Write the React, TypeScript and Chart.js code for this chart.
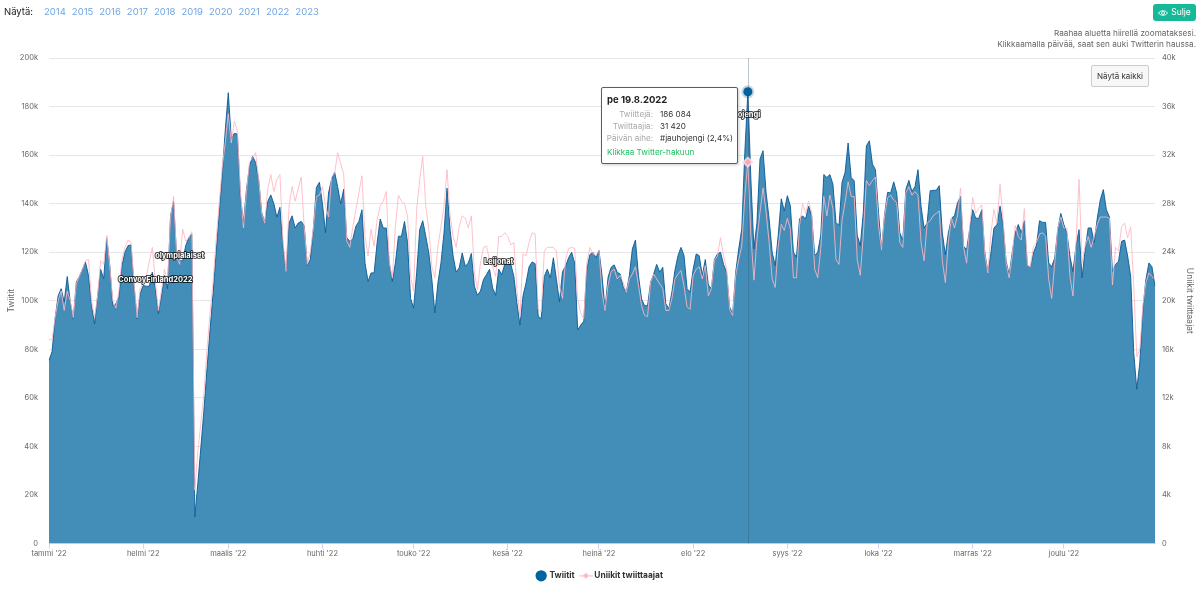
import { useEffect, useRef } from 'react';
import { Chart, registerables } from 'chart.js';

Chart.register(...registerables);

const FONT = 'Inter, "Noto Sans", sans-serif';

// thousands of tweets per day, 1.1.-31.12.2022
const tweets = [
  75.5, 79, 92.6, 102, 105, 99.5, 110, 99.5, 92.6, 107.7,
  110, 113, 116, 110.4, 98, 90.5, 102, 113, 109, 126,
  114.5, 98, 98.7, 101.5, 114.5, 120, 122.7, 123, 106, 92.6,
  103, 106.3, 106, 106, 111.8, 105, 94.7, 102, 110.4, 105,
  135, 141, 118.6, 116.5, 116.5, 122.7, 126, 127.5, 11, 25,
  40, 55, 72, 88, 103, 120, 136, 152, 170, 185.7,
  166.6, 169, 168.6, 143, 132, 146, 155.6, 159.5, 157, 150,
  136.4, 132.3, 141, 143.6, 140, 134.4, 138.5, 122.7, 111.8, 132,
  135, 130, 132, 132.7, 131, 114.5, 117, 129.6, 146.7, 148.8,
  140, 128, 144.4, 150, 153, 147, 140, 146, 126, 124.5,
  125.5, 130.7, 132.7, 137.5, 115.6, 108, 111.5, 111.5, 124, 133.7,
  130, 130, 115.6, 108, 115.6, 126.6, 126.6, 132.7, 124, 101,
  97, 111.5, 129.3, 133, 126.6, 119.7, 108.8, 95, 107.4, 115.6,
  128, 146.4, 129.3, 118.4, 111.8, 113.6, 119.7, 114.2, 115.6, 119.5,
  106, 102.3, 104, 108.8, 110.8, 113, 105.3, 102.3, 113, 110.8,
  115, 115.6, 115, 110, 99, 90, 102, 107.4, 114, 116,
  115.3, 93.7, 92.6, 110, 113, 109.5, 117.7, 108.8, 99.5, 112,
  114.2, 117.7, 120, 115.6, 88, 90, 91.6, 113, 119, 120,
  117.7, 120.8, 110.4, 96.7, 109.7, 113.8, 114.8, 111.8, 111, 105.6,
  103.6, 110.4, 121.4, 125, 110.4, 100.8, 98, 98, 107.7, 111,
  115, 111.8, 113.8, 98.8, 96.7, 103.6, 112.5, 118.6, 122, 118.6,
  105, 103.6, 113, 119.3, 118.6, 110.4, 117, 106.5, 105, 117,
  119.3, 120, 115, 111.8, 97.4, 94.7, 111.8, 121.4, 129.6, 161,
  186.084, 150, 121.4, 132.3, 158.4, 161.8, 144.7, 133.7, 120, 114.5,
  127, 142, 137, 143.3, 139, 120, 118, 133.7, 135, 133.7,
  139, 135, 118.6, 120, 127, 152, 150.8, 152, 148, 132.3,
  131, 148.8, 152.9, 165, 150.8, 149.4, 127, 122.7, 136.4, 163.8,
  165.9, 156.3, 154, 136.4, 121, 135.5, 144.7, 144.4, 149, 144.4,
  128, 125, 145.8, 149.6, 145, 147, 154, 139, 130, 132,
  145.3, 145.5, 145.5, 147.4, 128, 119, 128, 134, 135, 140.3,
  143, 122.5, 121, 129.3, 137.5, 134, 134, 137.5, 119.7, 112,
  119.7, 130, 131.4, 139, 131.4, 116.3, 110.8, 119.7, 128, 131.4,
  128, 133, 114.5, 114, 119.7, 123, 133, 132.3, 132.3, 115.6,
  114, 117.7, 129.3, 136, 131.4, 128, 118.4, 112, 122.5, 129.3,
  109.5, 121, 130, 130, 124, 134, 141.6, 145.8, 137.5, 134.5,
  112, 115, 116.3, 124.5, 125, 118.4, 110, 78.6, 63.6, 74.5,
  96.4, 108.8, 115.6, 114, 106,
];

// thousands of unique tweeters per day
const tweeters = [
  16.8, 16.8, 18.6, 20, 20.8, 19.2, 20.8, 20, 18.6, 21.4,
  22, 22.6, 23.3, 23.4, 20, 18.6, 20.4, 23.3, 23, 25.4,
  22.8, 20, 19.4, 20.8, 23.4, 24.4, 25, 24.8, 21.4, 18.6,
  21, 21.4, 22, 23.2, 24.4, 21.6, 19.2, 20.8, 22.6, 21.4,
  26.8, 28.6, 23.6, 23, 25.9, 24.9, 25.2, 25.7, 4.4, 7.6,
  10, 12.4, 16, 19, 21.6, 25, 28, 31, 33, 35.4,
  33, 34.8, 34, 29, 26, 29, 31.4, 31.8, 32.2, 30,
  27.2, 26.4, 29.2, 30.4, 29, 30, 30.4, 25, 22.4, 27.8,
  29.4, 28.2, 29.2, 30.2, 26, 23, 24, 26, 28.6, 28.7,
  29.4, 27.8, 26.9, 30.2, 30.5, 32.2, 31.3, 30.4, 24.9, 24.4,
  26.1, 27.5, 28.9, 30.3, 25.3, 23.7, 25.9, 24.5, 26.7, 27.8,
  28.2, 29, 23.1, 21.9, 26.1, 28.7, 28.2, 28, 27, 22,
  20.8, 27.5, 30, 31.9, 27.8, 25.9, 22.8, 21.9, 24.5, 26.1,
  27.8, 30.8, 27, 25.3, 24.4, 26.1, 27, 26.8, 26, 27,
  22.3, 20.9, 23.1, 24.4, 24.5, 23.3, 22.8, 22, 25.3, 25.3,
  25.6, 25.3, 24.6, 24.8, 20.9, 18.7, 23.9, 23.7, 24.8, 25.6,
  25.5, 19.3, 19.1, 24.1, 24.4, 24.4, 24.4, 24.1, 21.2, 20.2,
  23.4, 24.3, 24.4, 24.3, 20.1, 19, 18.5, 23.1, 24.4, 23.9,
  23.7, 24.2, 20.7, 19.2, 21.3, 22.4, 22.6, 21.8, 22.1, 21.5,
  20.7, 21.8, 22.2, 22.8, 21.3, 19.6, 18.8, 18.7, 21.5, 22.2,
  21.8, 21.4, 21, 19.2, 19.2, 20.2, 21.8, 22.2, 22.5, 21.2,
  19.5, 19.3, 22.1, 22.6, 22.8, 21.8, 22.9, 20.4, 21, 23.3,
  23.7, 25.2, 23.7, 22.6, 19.3, 18.8, 22.1, 23.4, 24.5, 28.6,
  31.42, 25.4, 21.7, 25.1, 27.3, 29.3, 27.3, 24.8, 21.8, 21.1,
  24.5, 26.3, 25.8, 26.8, 25.9, 21.9, 21.9, 26.2, 28, 27.2,
  28.2, 27.3, 22.6, 21.9, 24.3, 28.6, 27, 28.7, 27.6, 23.4,
  23, 26.6, 28.1, 29.8, 28.6, 28.6, 23.4, 22.1, 25.4, 29.9,
  29.5, 29.9, 30.2, 26.2, 24.2, 27, 28.5, 28.7, 28.3, 28.1,
  24.8, 24.4, 28.9, 29.4, 28.7, 29, 28.7, 24.8, 23.3, 26.4,
  26.6, 27, 27.2, 27.4, 23.3, 21.5, 24.9, 26.8, 26, 27,
  29.3, 24.4, 23.1, 26.1, 28.5, 27.2, 27.6, 27.9, 23.8, 22.3,
  25.6, 27.5, 26.4, 29.6, 26.7, 23.1, 21.9, 23.7, 26.2, 25.3,
  25, 27.6, 22.9, 22.8, 24.5, 24.8, 25.5, 25.6, 25.3, 21.8,
  20.2, 23.1, 26, 26.9, 26, 26, 22, 20.4, 24.8, 30,
  23.1, 24.5, 25.3, 24.4, 25.3, 26.3, 26.9, 26.9, 26.9, 26.8,
  21.3, 24.4, 24.1, 26.1, 26.4, 25.2, 26.1, 21.2, 15.4, 16,
  19.6, 21.5, 22.3, 22, 21.8,
];

const monthStarts = [0, 31, 59, 90, 120, 151, 181, 212, 243, 273, 304, 334];
const monthLabels = ["tammi '22", "helmi '22", "maalis '22", "huhti '22", "touko '22", "kesä '22", "heinä '22", "elo '22", "syys '22", "loka '22", "marras '22", "joulu '22"];
const years = ['2014', '2015', '2016', '2017', '2018', '2019', '2020', '2021', '2022', '2023'];

const activeDay = 230; // 19.8.
const labelDays = [35, 43, 148, 227];
const labelValues = [108.5, 118.5, 116, 176.5];
const labelTexts = ['ConvoyFinland2022', 'olympialaiset', 'Leijonat', '#jauhojengi'];

const days = tweets.map((_, i) => new Date(Date.UTC(2022, 0, 1 + i)).toISOString().slice(0, 10));

const tooltipRows = [
  ['Twiittejä:', '186 084'],
  ['Twiittaajia:', '31 420'],
  ['Päivän aihe:', '#jauhojengi (2,4%)'],
];

// crosshair at the hovered day, on top of the blue area
const crosshair = {
  id: 'crosshair',
  afterDatasetDraw(chart: any, args: any) {
    if (args.index !== 0) return;
    const { ctx, chartArea, scales } = chart;
    const x = Math.round(scales.x.getPixelForValue(activeDay)) + 0.5;
    ctx.save();
    ctx.strokeStyle = 'rgba(50,70,100,0.3)';
    ctx.lineWidth = 1;
    ctx.beginPath();
    ctx.moveTo(x, chartArea.top);
    ctx.lineTo(x, chartArea.bottom);
    ctx.stroke();
    ctx.restore();
  },
};

// topic labels of single days, white with a dark outline
const dayLabels = {
  id: 'dayLabels',
  afterDatasetsDraw(chart: any) {
    const { ctx, scales } = chart;
    ctx.save();
    ctx.font = `bold 7.5px ${FONT}`;
    ctx.textAlign = 'center';
    ctx.textBaseline = 'middle';
    ctx.lineJoin = 'round';
    labelTexts.forEach((text, i) => {
      const x = scales.x.getPixelForValue(labelDays[i]);
      const y = scales.y.getPixelForValue(labelValues[i]);
      ctx.strokeStyle = 'rgba(0,0,0,0.75)';
      ctx.lineWidth = 2;
      ctx.strokeText(text, x, y);
      ctx.fillStyle = '#fff';
      ctx.fillText(text, x, y);
    });
    ctx.restore();
  },
};

// line + diamond symbol for the legend
function pinkSymbol() {
  const c = document.createElement('canvas');
  c.width = 14;
  c.height = 10;
  const g = c.getContext('2d')!;
  g.strokeStyle = '#ffb6c1';
  g.beginPath();
  g.moveTo(0, 5);
  g.lineTo(14, 5);
  g.stroke();
  g.fillStyle = '#ffb6c1';
  g.beginPath();
  g.moveTo(7, 2);
  g.lineTo(10, 5);
  g.lineTo(7, 8);
  g.lineTo(4, 5);
  g.fill();
  return c;
}

const App = () => {
  const canvasRef = useRef<HTMLCanvasElement>(null);

  useEffect(() => {
    if (!canvasRef.current) return;
    const symbol = pinkSymbol();
    const chart = new Chart(canvasRef.current, {
      type: 'line',
      data: {
        labels: days,
        datasets: [
          {
            label: 'Twiitit',
            data: tweets,
            yAxisID: 'y',
            order: 2,
            borderColor: 'rgba(10,90,150,0.9)',
            borderWidth: 1,
            backgroundColor: '#428eb9',
            fill: 'origin',
            tension: 0,
            pointStyle: 'circle',
            pointRadius: (c: any) => (c.dataIndex === activeDay ? 4.5 : 0),
            pointBackgroundColor: '#00659f',
            pointBorderColor: 'rgba(0,101,159,0.25)',
            pointBorderWidth: 4,
          },
          {
            label: 'Uniikit twiittaajat',
            data: tweeters,
            yAxisID: 'y1',
            order: 1,
            borderColor: 'rgba(255,182,193,0.85)',
            borderWidth: 1,
            fill: false,
            tension: 0,
            pointStyle: 'rectRot',
            pointRadius: (c: any) => (c.dataIndex === activeDay ? 4.5 : 0),
            pointBackgroundColor: '#f7a8b8',
            pointBorderColor: 'rgba(255,220,226,0.8)',
            pointBorderWidth: 2,
          },
        ],
      },
      options: {
        responsive: false,
        animation: false,
        events: [],
        layout: { padding: { top: 58, bottom: 0, left: 0, right: 0 } },
        scales: {
          x: {
            type: 'category',
            afterBuildTicks: (axis: any) => {
              axis.ticks = monthStarts.map((value) => ({ value }));
            },
            afterFit: (axis: any) => {
              axis.height = 21;
            },
            grid: { drawOnChartArea: false, color: '#ccd6eb', tickColor: '#ccd6eb', tickLength: 5 },
            border: { color: '#ccd6eb' },
            ticks: {
              autoSkip: false,
              maxRotation: 0,
              padding: 1,
              color: '#666',
              font: { family: FONT, size: 7.5 },
              callback: (value: any) => monthLabels[monthStarts.indexOf(value)],
            },
          },
          y: {
            position: 'left',
            min: 0,
            max: 200,
            afterFit: (axis: any) => {
              axis.width = 49;
            },
            grid: { color: '#e6e6e6', drawTicks: false },
            border: { display: false },
            ticks: {
              stepSize: 20,
              padding: 11,
              color: '#666',
              font: { family: FONT, size: 7.5 },
              callback: (v: any) => (v === 0 ? '0' : `${v}k`),
            },
            title: { display: true, text: 'Twiitit', color: '#666', font: { family: FONT, size: 8.5 }, padding: { top: 6, bottom: 0 } },
          },
          y1: {
            position: 'right',
            min: 0,
            max: 40,
            afterFit: (axis: any) => {
              axis.width = 45;
            },
            grid: { drawOnChartArea: false, drawTicks: false },
            border: { display: false },
            ticks: {
              stepSize: 4,
              padding: 7,
              color: '#666',
              font: { family: FONT, size: 7.5 },
              callback: (v: any) => (v === 0 ? '0' : `${v}k`),
            },
            title: { display: true, text: 'Uniikit twiittaajat', color: '#666', font: { family: FONT, size: 8.5 }, padding: { top: 5, bottom: 0 } },
          },
        },
        plugins: {
          tooltip: { enabled: false },
          legend: {
            position: 'bottom',
            labels: {
              usePointStyle: true,
              padding: 7,
              boxHeight: 8,
              color: '#333',
              font: { family: FONT, size: 8.4, weight: 'bold' },
              generateLabels: () => [
                { text: 'Twiitit', pointStyle: 'circle', fillStyle: '#00659f', strokeStyle: '#00659f', lineWidth: 0, fontColor: '#333', datasetIndex: 0 },
                { text: 'Uniikit twiittaajat', pointStyle: symbol, fillStyle: '#ffb6c1', strokeStyle: '#ffb6c1', lineWidth: 0, fontColor: '#333', datasetIndex: 1 },
              ],
            },
          },
        },
      } as any,
      plugins: [crosshair, dayLabels],
    });

    return () => {
      chart.destroy();
    };
  }, []);

  return (
    <div style={{ position: 'relative', width: 1200, height: 590, fontFamily: FONT, overflow: 'hidden' }}>
      <style>{'body { margin: 0; background: #fff; }'}</style>
      <canvas ref={canvasRef} width={1200} height={590} style={{ display: 'block' }} />

      <div style={{ position: 'absolute', left: 4, top: 6, display: 'flex', gap: 6, fontSize: 9.5, lineHeight: '12px' }}>
        <span style={{ color: '#222', marginRight: 5 }}>Näytä:</span>
        {years.map((y) => (
          <span key={y} style={{ color: '#6ea4e2' }}>{y}</span>
        ))}
      </div>

      <div style={{ position: 'absolute', left: 1153, top: 4, width: 43, height: 17, background: '#17b897', borderRadius: 3, color: '#fff', fontSize: 8.5, lineHeight: '17px', display: 'flex', alignItems: 'center', justifyContent: 'center', gap: 3 }}>
        <svg width="10" height="8" viewBox="0 0 20 16" fill="none" stroke="#fff" strokeWidth="1.8">
          <path d="M1 8 C5 2 15 2 19 8 C15 14 5 14 1 8 Z" />
          <circle cx="10" cy="8" r="3" />
        </svg>
        Sulje
      </div>

      <div style={{ position: 'absolute', right: 4, top: 28, textAlign: 'right', fontSize: 8.2, lineHeight: '10.5px', color: '#666' }}>
        Raahaa aluetta hiirellä zoomataksesi.
        <br />
        Klikkaamalla päivää, saat sen auki Twitterin haussa.
      </div>

      <div style={{ position: 'absolute', left: 1091, top: 65, width: 58, height: 22, boxSizing: 'border-box', background: '#f7f7f7', border: '1px solid #ccc', borderRadius: 2, fontSize: 8, lineHeight: '20px', textAlign: 'center', color: '#333' }}>
        Näytä kaikki
      </div>

      <div style={{ position: 'absolute', left: 601, top: 87, width: 137, height: 77, boxSizing: 'border-box', background: '#fff', border: '1.5px solid #1f6f9f', borderRadius: 2, boxShadow: '1px 1px 3px rgba(0,0,0,0.2)', fontSize: 8.1 }}>
        <div style={{ position: 'absolute', left: 5, top: 5, fontSize: 9.5, fontWeight: 700, color: '#222', lineHeight: '13px' }}>pe 19.8.2022</div>
        {tooltipRows.map(([k, v], i) => (
          <div key={k} style={{ position: 'absolute', left: 0, top: 19.5 + i * 12.3, lineHeight: '12px', whiteSpace: 'nowrap' }}>
            <span style={{ position: 'absolute', right: -51, color: '#aaa' }}>{k}</span>
            <span style={{ position: 'absolute', left: 58, color: '#333' }}>{v}</span>
          </div>
        ))}
        <div style={{ position: 'absolute', left: 5, top: 58, lineHeight: '12px', color: '#1fbf60', whiteSpace: 'nowrap' }}>Klikkaa Twitter-hakuun</div>
      </div>
    </div>
  );
};

export default App;
